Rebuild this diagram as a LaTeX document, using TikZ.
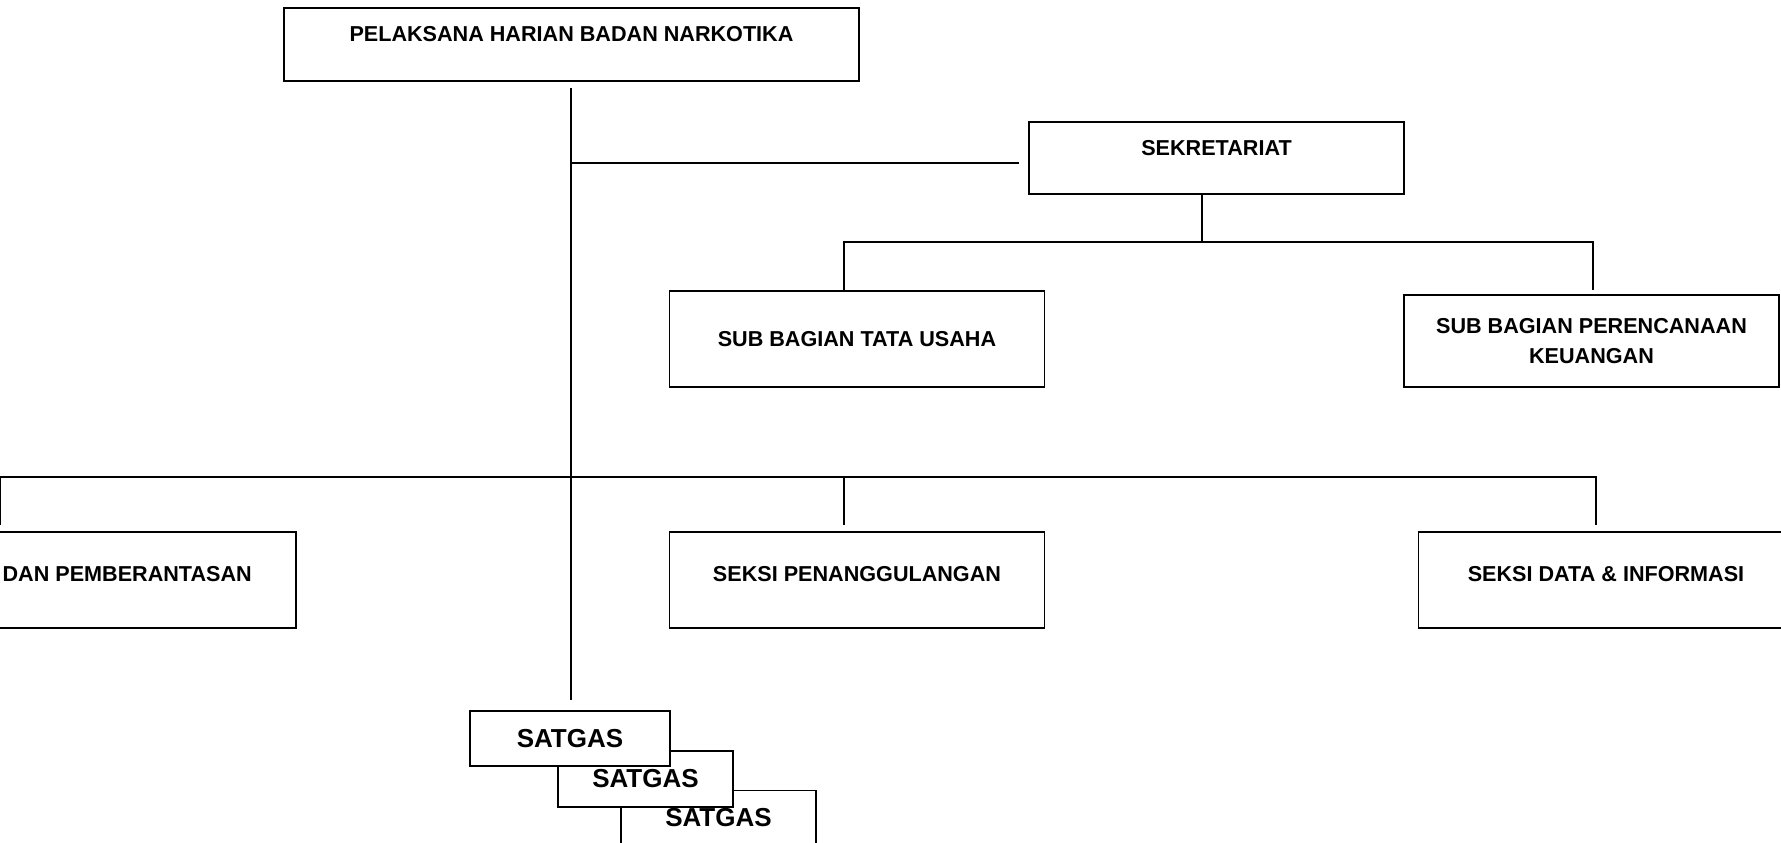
\documentclass[tikz,border=0pt]{standalone}
\usepackage{fontspec}
\setmainfont{Liberation Sans}
\usetikzlibrary{positioning,calc}

\begin{document}
\begin{tikzpicture}[
    x=1pt, y=-1pt,
    head/.style={rectangle, draw, line width=1.8pt, minimum width=375pt, minimum height=73pt, inner sep=0pt},
    headtext/.style={anchor=base, inner sep=0pt, font=\fontsize{21.6}{30}\selectfont\bfseries},
    unit/.style={rectangle, draw, line width=1.8pt, fill=white, minimum width=375pt, minimum height=96pt, align=center, inner sep=0pt, font=\fontsize{21.6}{30}\selectfont\bfseries},
    seksi/.style={unit, text depth=12pt},
    satgas/.style={rectangle, draw, line width=1.8pt, fill=white, minimum height=55pt, inner sep=0pt, font=\fontsize{26}{30}\selectfont\bfseries},
    link/.style={line width=1.8pt}
]
\useasboundingbox (0,0) rectangle (1781,843);
\clip (0,0) rectangle (1781,843);

% top
\node[head, minimum width=575pt] (phbn) at (571.5,44.5) {};
\node[headtext] at ([yshift=-34pt]phbn.north) {PELAKSANA HARIAN BADAN NARKOTIKA};

\node[head, minimum height=72pt] (sekr) at (1216.5,158) {};
\node[headtext] at ([yshift=-34pt]sekr.north) {SEKRETARIAT};

\node[unit] (tu) at (857,339) {SUB BAGIAN TATA USAHA};
\node[unit, minimum height=92pt] (pk) at (1591.5,341) {SUB BAGIAN PERENCANAAN\\KEUANGAN};

% seksi
\node[seksi] (pb) at (108.5,580) {};
\node[headtext, anchor=east] at (252,574) {DAN PEMBERANTASAN};
\node[seksi] (sp) at (857,580) {SEKSI PENANGGULANGAN};
\node[seksi] (sdi) at (1606,580) {SEKSI DATA \& INFORMASI};

% satgas
\node[satgas, minimum width=195pt] (sat3) at (718.5,818) {SATGAS};
\node[satgas, minimum width=175pt, minimum height=56pt] (sat2) at (645.5,779) {SATGAS};
\node[satgas, minimum width=200pt] (sat1) at (570,738.5) {SATGAS};

\coordinate (j1) at (571,163);
\coordinate (j2) at (571,477);
\coordinate (b1) at (1202,242);
\coordinate (spt) at ([xshift=-13pt]sp.north);

\draw[link, shorten <=6pt, shorten >=10pt] (phbn.south -| j1) -- (sat1.north -| j1);
\draw[link, shorten >=9pt] (j1) -- (j1 -| sekr.west);
\draw[link] (sekr.south -| b1) -- (b1);
\draw[link, shorten >=4pt] ([xshift=-13pt]tu.north) |- (b1) -| ([xshift=1.5pt]pk.north);
\draw[link, shorten <=6pt, shorten >=6pt] ([xshift=-108.5pt]pb.north) |- (j2) -| ([xshift=-10pt]sdi.north);
\draw[link, shorten >=6pt] (spt |- j2) -- (spt);

\end{tikzpicture}
\end{document}
